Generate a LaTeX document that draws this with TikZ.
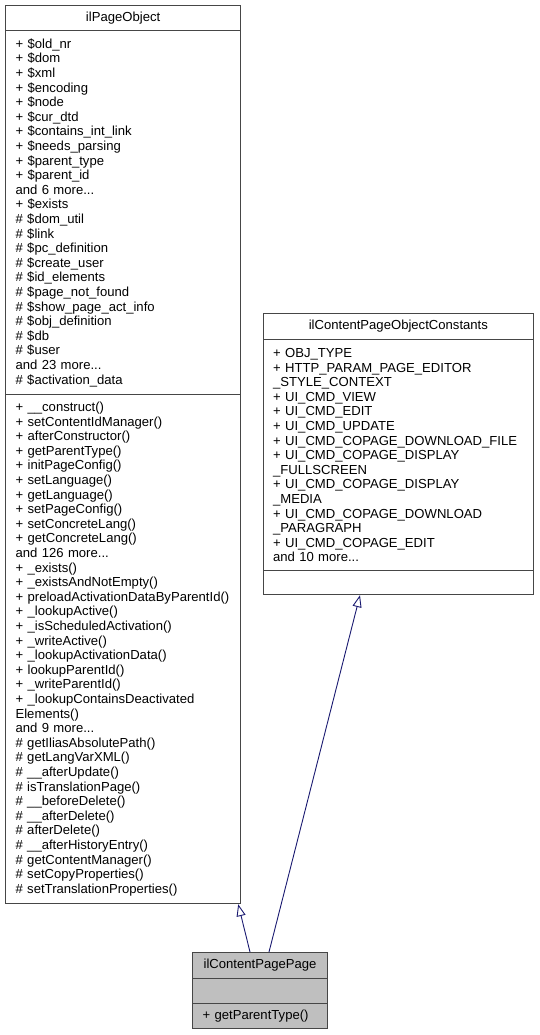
\documentclass[tikz,border=0pt]{standalone}
\usepackage{fontspec}
\setmainfont{Liberation Sans}
\usetikzlibrary{arrows.meta}
\definecolor{umlline}{RGB}{70,70,70}
\definecolor{umlblue}{RGB}{25,25,112}
\definecolor{umlgray}{RGB}{191,191,191}
\newcommand{\umlfont}{\fontsize{13.1}{14.6}\selectfont\lefthyphenmin=64\hyphenpenalty=10000}
\begin{document}
\begin{tikzpicture}[x=1pt,y=-1pt,line join=miter]
  \tikzset{uml/.style={draw=umlline,line width=1.2pt,fill=white,anchor=north west,
      inner xsep=10pt,inner ysep=0pt,align=left,font=\umlfont},
    umltitle/.style={uml,align=center},
    inherit/.style={draw=umlblue,line width=0.9pt,
      -{Triangle[open,length=12pt,width=9pt,fill=white]}}}
  \useasboundingbox (0,0) rectangle (539,1035);
  % ilPageObject
  \node[umltitle,text width=215pt,minimum height=25pt] (po) at (5,5) {ilPageObject};
  \node[uml,text width=215pt,minimum height=364pt] (poA) at (5,30) {%
    + \$old\_nr\\ + \$dom\\ + \$xml\\ + \$encoding\\ + \$node\\ + \$cur\_dtd\\
    + \$contains\_int\_link\\ + \$needs\_parsing\\ + \$parent\_type\\ + \$parent\_id\\
    and 6 more...\\ + \$exists\\ \# \$dom\_util\\ \# \$link\\ \# \$pc\_definition\\
    \# \$create\_user\\ \# \$id\_elements\\ \# \$page\_not\_found\\
    \# \$show\_page\_act\_info\\ \# \$obj\_definition\\ \# \$db\\ \# \$user\\
    and 23 more...\\ \# \$activation\_data};
  \node[uml,text width=215pt,minimum height=509pt] (poM) at (5,394) {%
    + \_\_construct()\\ + setContentIdManager()\\ + afterConstructor()\\
    + getParentType()\\ + initPageConfig()\\ + setLanguage()\\ + getLanguage()\\
    + setPageConfig()\\ + setConcreteLang()\\ + getConcreteLang()\\
    and 126 more...\\ + \_exists()\\ + \_existsAndNotEmpty()\\
    + preloadActivationDataByParentId()\\ + \_lookupActive()\\
    + \_isScheduledActivation()\\ + \_writeActive()\\ + \_lookupActivationData()\\
    + lookupParentId()\\ + \_writeParentId()\\ + \_lookupContainsDeactivated\\
    Elements()\\ and 9 more...\\ \# getIliasAbsolutePath()\\ \# getLangVarXML()\\
    \# \_\_afterUpdate()\\ \# isTranslationPage()\\ \# \_\_beforeDelete()\\
    \# \_\_afterDelete()\\ \# afterDelete()\\ \# \_\_afterHistoryEntry()\\
    \# getContentManager()\\ \# setCopyProperties()\\ \# setTranslationProperties()};
  % ilContentPageObjectConstants
  \node[umltitle,text width=250.5pt,minimum height=26pt] (co) at (262.5,313) {ilContentPageObjectConstants};
  \node[uml,text width=250.5pt,minimum height=231pt] (coA) at (262.5,339) {%
    + OBJ\_TYPE\\ + HTTP\_PARAM\_PAGE\_EDITOR\\ \_STYLE\_CONTEXT\\
    + UI\_CMD\_VIEW\\ + UI\_CMD\_EDIT\\ + UI\_CMD\_UPDATE\\
    + UI\_CMD\_COPAGE\_DOWNLOAD\_FILE\\ + UI\_CMD\_COPAGE\_DISPLAY\\ \_FULLSCREEN\\
    + UI\_CMD\_COPAGE\_DISPLAY\\ \_MEDIA\\ + UI\_CMD\_COPAGE\_DOWNLOAD\\ \_PARAGRAPH\\
    + UI\_CMD\_COPAGE\_EDIT\\ and 10 more...};
  \node[uml,text width=250.5pt,minimum height=24pt] (coM) at (262.5,570) {};
  % ilContentPagePage
  \node[umltitle,fill=umlgray,text width=115pt,minimum height=26pt] (cpp) at (192,952) {ilContentPagePage};
  \node[uml,fill=umlgray,text width=115pt,minimum height=25pt] (cppA) at (192,978) {};
  \node[uml,fill=umlgray,text width=115pt,minimum height=25pt] (cppM) at (192,1003) {+ getParentType()};
  % inheritance
  \draw[inherit] ([xshift=58pt]cpp.north west) -- ([xshift=-3pt]poM.south east);
  \draw[inherit] ([xshift=77pt]cpp.north west) -- ([xshift=97.5pt]coM.south west);
\end{tikzpicture}
\end{document}
